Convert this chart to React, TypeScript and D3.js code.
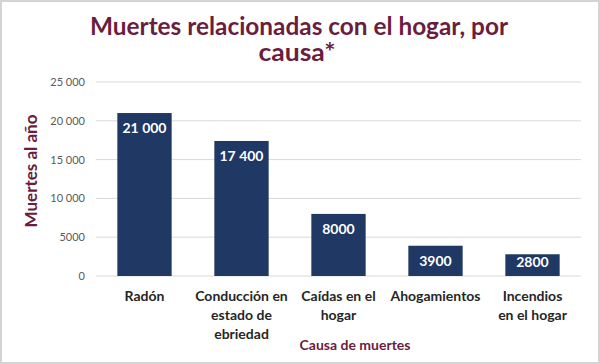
import React from "react";
import * as d3 from "d3";

const categories = ["Radón", "Conducción en estado de ebriedad", "Caídas en el hogar", "Ahogamientos", "Incendios en el hogar"];
const categoryLines = [["Radón"], ["Conducción en", "estado de", "ebriedad"], ["Caídas en el", "hogar"], ["Ahogamientos"], ["Incendios", "en el hogar"]];
const values = [21000, 17400, 8000, 3900, 2800];
const valueLabels = ["21 000", "17 400", "8000", "3900", "2800"];
const yTicks = [0, 5000, 10000, 15000, 20000, 25000];
const yTickLabels = ["0", "5000", "10 000", "15 000", "20 000", "25 000"];

const W = 600, H = 364;
const M = { left: 96, right: 581, top: 82, bottom: 276 };
const maroon = "#6B1D3E";
const font = "Lato, 'Open Sans', sans-serif";

export default function App() {
  const x = d3.scaleBand<string>().domain(categories).range([M.left, M.right]).paddingInner(0.44).paddingOuter(0.22);
  const y = d3.scaleLinear().domain([0, 25000]).range([M.bottom, M.top]);
  return (
    <svg width={W} height={H} style={{ position: "absolute", left: 0, top: 0, background: "#fff" }} fontFamily={font}>
      <rect x={1} y={1} width={W - 2} height={H - 2} fill="#fff" stroke="#D4D4D4" strokeWidth={2} />
      <text x={299} y={35} textAnchor="middle" fontSize={25} fontWeight={700} fill={maroon} textLength={418} lengthAdjust="spacingAndGlyphs">Muertes relacionadas con el hogar, por</text>
      <text x={297} y={61} textAnchor="middle" fontSize={25} fontWeight={700} fill={maroon} textLength={77} lengthAdjust="spacingAndGlyphs">causa*</text>
      {yTicks.map((t, i) => (
        <g key={t}>
          <line x1={M.left} x2={M.right} y1={y(t)} y2={y(t)} stroke="#D9D9D9" strokeWidth={1} />
          <text x={85} y={y(t) + 4} textAnchor="end" fontSize={11} fill="#595959">{yTickLabels[i]}</text>
        </g>
      ))}
      {categories.map((c, i) => {
        const bx = x(c)!;
        const bw = x.bandwidth();
        const top = y(values[i]);
        const h = y(0) - top;
        const ly = h < 25 ? top + h / 2 + 2 : top + 20;
        return (
          <g key={c}>
            <rect x={bx} y={top} width={bw} height={h} fill="#1F3864" />
            <text x={bx + bw / 2} y={ly} textAnchor="middle" fontSize={14} fontWeight={700} fill="#fff">{valueLabels[i]}</text>
            {categoryLines[i].map((ln, j) => (
              <text key={j} x={bx + bw / 2} y={301 + j * 19} textAnchor="middle" fontSize={14} fontWeight={700} fill="#262626">{ln}</text>
            ))}
          </g>
        );
      })}
      <text transform={`translate(37,171) rotate(-90)`} textAnchor="middle" fontSize={17} fontWeight={700} fill={maroon}>Muertes al año</text>
      <text x={355} y={350} textAnchor="middle" fontSize={14} fontWeight={700} fill={maroon}>Causa de muertes</text>
    </svg>
  );
}
